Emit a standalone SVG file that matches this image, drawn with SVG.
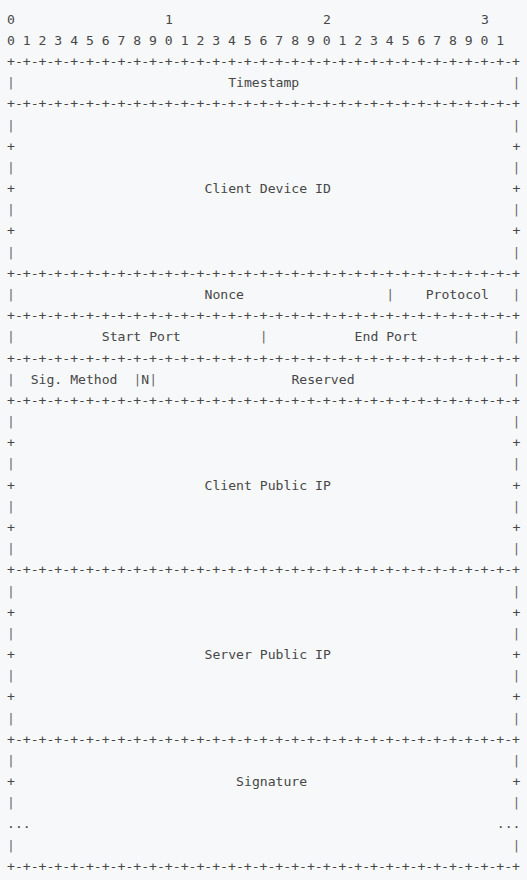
<svg xmlns="http://www.w3.org/2000/svg" width="527" height="880" viewBox="0 0 527 880">
<style>
.t{font-family:"DejaVu Sans Mono","Liberation Mono",monospace;font-size:13.12px;fill:#474747}
.p{font-family:"DejaVu Sans Mono","Liberation Mono",monospace;font-size:13.12px;fill:#6a6a6a}
</style>
<rect x="0" y="0" width="527" height="880" fill="#f6f8fa"/>
<g id="ruler">
<text class="t" x="7" y="23.6">0</text>
<text class="t" x="165" y="23.6">1</text>
<text class="t" x="323" y="23.6">2</text>
<text class="t" x="481" y="23.6">3</text>
<text class="t" x="7" y="44.8">0 1 2 3 4 5 6 7 8 9 0 1 2 3 4 5 6 7 8 9 0 1 2 3 4 5 6 7 8 9 0 1</text>
</g>
<g id="separators">
<text class="t" x="7" y="66.0">+-+-+-+-+-+-+-+-+-+-+-+-+-+-+-+-+-+-+-+-+-+-+-+-+-+-+-+-+-+-+-+-+</text>
<text class="t" x="7" y="108.3">+-+-+-+-+-+-+-+-+-+-+-+-+-+-+-+-+-+-+-+-+-+-+-+-+-+-+-+-+-+-+-+-+</text>
<text class="t" x="7" y="277.8">+-+-+-+-+-+-+-+-+-+-+-+-+-+-+-+-+-+-+-+-+-+-+-+-+-+-+-+-+-+-+-+-+</text>
<text class="t" x="7" y="320.1">+-+-+-+-+-+-+-+-+-+-+-+-+-+-+-+-+-+-+-+-+-+-+-+-+-+-+-+-+-+-+-+-+</text>
<text class="t" x="7" y="362.5">+-+-+-+-+-+-+-+-+-+-+-+-+-+-+-+-+-+-+-+-+-+-+-+-+-+-+-+-+-+-+-+-+</text>
<text class="t" x="7" y="404.8">+-+-+-+-+-+-+-+-+-+-+-+-+-+-+-+-+-+-+-+-+-+-+-+-+-+-+-+-+-+-+-+-+</text>
<text class="t" x="7" y="574.3">+-+-+-+-+-+-+-+-+-+-+-+-+-+-+-+-+-+-+-+-+-+-+-+-+-+-+-+-+-+-+-+-+</text>
<text class="t" x="7" y="743.7">+-+-+-+-+-+-+-+-+-+-+-+-+-+-+-+-+-+-+-+-+-+-+-+-+-+-+-+-+-+-+-+-+</text>
<text class="t" x="7" y="870.8">+-+-+-+-+-+-+-+-+-+-+-+-+-+-+-+-+-+-+-+-+-+-+-+-+-+-+-+-+-+-+-+-+</text>
</g>
<g id="field-timestamp">
<text class="p" x="7" y="87.1">|</text>
<text class="t" x="228.2" y="87.1">Timestamp</text>
<text class="p" x="512.6" y="87.1">|</text>
</g>
<g id="field-client-device-id">
<text class="p" x="7" y="129.5">|</text><text class="p" x="512.6" y="129.5">|</text>
<text class="t" x="7" y="150.7">+</text><text class="t" x="512.6" y="150.7">+</text>
<text class="p" x="7" y="171.9">|</text><text class="p" x="512.6" y="171.9">|</text>
<text class="t" x="7" y="193.0">+</text><text class="t" x="204.5" y="193.0">Client Device ID</text><text class="t" x="512.6" y="193.0">+</text>
<text class="p" x="7" y="214.2">|</text><text class="p" x="512.6" y="214.2">|</text>
<text class="t" x="7" y="235.4">+</text><text class="t" x="512.6" y="235.4">+</text>
<text class="p" x="7" y="256.6">|</text><text class="p" x="512.6" y="256.6">|</text>
</g>
<g id="field-nonce">
<text class="p" x="7" y="298.9">|</text>
<text class="t" x="204.5" y="298.9">Nonce</text>
</g>
<g id="field-protocol">
<text class="p" x="386.2" y="298.9">|</text>
<text class="t" x="425.7" y="298.9">Protocol</text>
<text class="p" x="512.6" y="298.9">|</text>
</g>
<g id="field-start-port">
<text class="p" x="7" y="341.3">|</text>
<text class="t" x="101.8" y="341.3">Start Port</text>
</g>
<g id="field-end-port">
<text class="p" x="259.8" y="341.3">|</text>
<text class="t" x="354.6" y="341.3">End Port</text>
<text class="p" x="512.6" y="341.3">|</text>
</g>
<g id="field-sig-method">
<text class="p" x="7" y="383.7">|</text>
<text class="t" x="30.7" y="383.7">Sig. Method</text>
</g>
<g id="field-n">
<text class="p" x="133.4" y="383.7">|</text>
<text class="t" x="141.3" y="383.7">N</text>
<text class="p" x="149.2" y="383.7">|</text>
</g>
<g id="field-reserved">
<text class="t" x="291.4" y="383.7">Reserved</text>
<text class="p" x="512.6" y="383.7">|</text>
</g>
<g id="field-client-public-ip">
<text class="p" x="7" y="426.0">|</text><text class="p" x="512.6" y="426.0">|</text>
<text class="t" x="7" y="447.2">+</text><text class="t" x="512.6" y="447.2">+</text>
<text class="p" x="7" y="468.4">|</text><text class="p" x="512.6" y="468.4">|</text>
<text class="t" x="7" y="489.6">+</text><text class="t" x="204.5" y="489.6">Client Public IP</text><text class="t" x="512.6" y="489.6">+</text>
<text class="p" x="7" y="510.7">|</text><text class="p" x="512.6" y="510.7">|</text>
<text class="t" x="7" y="531.9">+</text><text class="t" x="512.6" y="531.9">+</text>
<text class="p" x="7" y="553.1">|</text><text class="p" x="512.6" y="553.1">|</text>
</g>
<g id="field-server-public-ip">
<text class="p" x="7" y="595.5">|</text><text class="p" x="512.6" y="595.5">|</text>
<text class="t" x="7" y="616.6">+</text><text class="t" x="512.6" y="616.6">+</text>
<text class="p" x="7" y="637.8">|</text><text class="p" x="512.6" y="637.8">|</text>
<text class="t" x="7" y="659.0">+</text><text class="t" x="204.5" y="659.0">Server Public IP</text><text class="t" x="512.6" y="659.0">+</text>
<text class="p" x="7" y="680.2">|</text><text class="p" x="512.6" y="680.2">|</text>
<text class="t" x="7" y="701.4">+</text><text class="t" x="512.6" y="701.4">+</text>
<text class="p" x="7" y="722.5">|</text><text class="p" x="512.6" y="722.5">|</text>
</g>
<g id="field-signature">
<text class="p" x="7" y="764.9">|</text><text class="p" x="512.6" y="764.9">|</text>
<text class="t" x="7" y="786.1">+</text><text class="t" x="236.1" y="786.1">Signature</text><text class="t" x="512.6" y="786.1">+</text>
<text class="p" x="7" y="807.3">|</text><text class="p" x="512.6" y="807.3">|</text>
<text class="t" x="7" y="828.4">...</text><text class="t" x="496.8" y="828.4">...</text>
<text class="p" x="7" y="849.6">|</text><text class="p" x="512.6" y="849.6">|</text>
</g>
</svg>
